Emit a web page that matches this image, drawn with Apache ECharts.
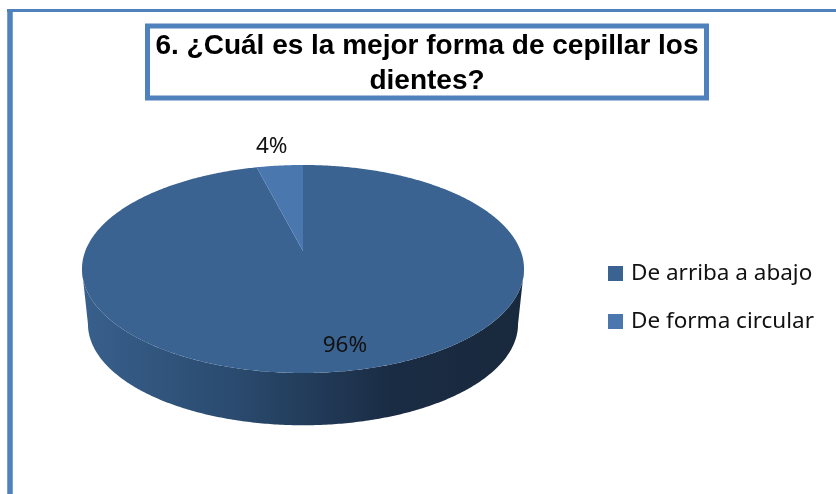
<!DOCTYPE html>
<html>
<head>
<meta charset="utf-8">
<style>html,body{margin:0;padding:0;background:#fff}#c{width:836px;height:494px}</style>
<script src="https://cdn.jsdelivr.net/npm/echarts@6/dist/echarts.min.js"></script>
</head>
<body>
<div id="c"></div>
<script>
const categories = ['De arriba a abajo', 'De forma circular'];
const values = [96, 4];
const sliceColors = ['#3b6391', '#4a77ae'];
const titleText = '6. ¿Cuál es la mejor forma de cepillar los\ndientes?';

const total = values.reduce((a, b) => a + b, 0);
const FRAME = '#4f81bd';
const LABEL_FONT = '"Noto Sans", "Open Sans", sans-serif';

// perspective view of the pie disc
const disc = { cx: 303, cy: 251, a: 100.9, b: 217.7, k: 0.173 };
const base = { cx: 303, cy: 306.5, a: 98.2, b: 211.8, k: 0.173 };
const labelOffset = [[9, -26], [-8, -19]];

function project(d, theta, r) {
  const X = r * Math.sin(theta), Y = r * Math.cos(theta);
  const w = 1 + d.k * Y;
  return [d.cx + d.b * X / w, d.cy - d.a * Y / w];
}
function arc(d, t0, t1) {
  const n = Math.max(2, Math.ceil(Math.abs(t1 - t0) / 0.01));
  const pts = [];
  for (let i = 0; i <= n; i++) pts.push(project(d, t0 + (t1 - t0) * i / n, 1));
  return pts;
}
function startOf(index) {
  let s = 0;
  for (let i = 0; i < index; i++) s += values[i];
  return s / total * Math.PI * 2;
}
const wallA = Math.PI - Math.acos(disc.k), wallB = Math.PI + Math.acos(disc.k);

function makeRender(index) {
  return function (params, api) {
    const v = api.value(0);
    const t0 = startOf(index), t1 = t0 + v / total * Math.PI * 2;
    const children = [];
    const lo = Math.max(t0, wallA), hi = Math.min(t1, wallB);
    if (hi > lo) {
      const pts = arc(disc, lo, hi).concat(arc(base, hi, lo));
      children.push({
        type: 'polygon', shape: { points: pts },
        style: { fill: { type: 'linear', x: 0, y: 0, x2: 1, y2: 0, colorStops: [
          { offset: 0, color: '#38608c' }, { offset: 0.35, color: '#2a4a6e' },
          { offset: 0.7, color: '#1a2c44' }, { offset: 1, color: '#19293d' }] } }
      });
    }
    const face = [[disc.cx, disc.cy]].concat(arc(disc, t0, t1));
    children.push({ type: 'polygon', shape: { points: face }, style: { fill: sliceColors[index] } });
    const rim = project(disc, (t0 + t1) / 2, 1);
    children.push({
      type: 'text', z2: 10,
      style: {
        x: rim[0] + labelOffset[index][0], y: rim[1] + labelOffset[index][1],
        text: Math.round(v / total * 100) + '%',
        align: 'center', verticalAlign: 'middle',
        font: '22.5px ' + LABEL_FONT, fill: '#111'
      }
    });
    return { type: 'group', children };
  };
}

const chart = echarts.init(document.getElementById('c'), null, { renderer: 'canvas' });
chart.setOption({
  animation: false,
  backgroundColor: '#fff',
  title: {
    text: titleText,
    left: 418.5, top: 25.5,
    textAlign: 'center',
    padding: [3, 8.5, 0, 8.5],
    borderColor: FRAME, borderWidth: 5, backgroundColor: '#fff',
    textStyle: {
      fontFamily: '"Liberation Sans", Arial, sans-serif', fontWeight: 'bold',
      fontSize: 28, lineHeight: 35, color: '#000'
    }
  },
  legend: {
    orient: 'vertical', left: 608, top: 258,
    data: categories, icon: 'rect', itemWidth: 15, itemHeight: 15, itemGap: 17,
    padding: 0,
    textStyle: { fontFamily: LABEL_FONT, fontSize: 22.5, color: '#111', padding: [2, 0, 0, 3], lineHeight: 29 }
  },
  graphic: [
    { type: 'line', silent: true, z: -1, shape: { x1: 7, y1: 10.5, x2: 836, y2: 10.5 }, style: { stroke: FRAME, lineWidth: 3 } },
    { type: 'line', silent: true, z: -1, shape: { x1: 10, y1: 9, x2: 10, y2: 494 }, style: { stroke: FRAME, lineWidth: 5.5 } }
  ],
  series: categories.map((name, i) => ({
    type: 'custom', name, coordinateSystem: 'none',
    itemStyle: { color: sliceColors[i] },
    renderItem: makeRender(i),
    data: [[values[i]]],
    z: 2 + i
  }))
});
</script>
</body>
</html>
